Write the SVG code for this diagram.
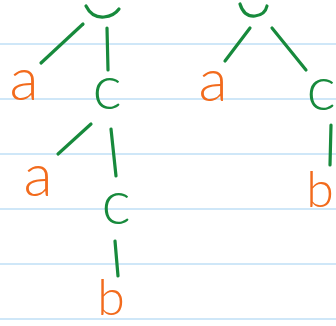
<svg xmlns="http://www.w3.org/2000/svg" width="336" height="326" viewBox="0 0 336 326">
<style>
.rule{stroke:#cfe7f8;stroke-width:2}
.edge{stroke:#178a3c;stroke-width:3.2;stroke-linecap:round;fill:none}
.g{fill:#178a3c;font-family:"Lato","Noto Sans",sans-serif;font-weight:300;font-size:62px;text-anchor:middle}
.o{fill:#f26b1d;font-family:"Lato","Noto Sans",sans-serif;font-weight:300;font-size:60px;text-anchor:middle}
.ob{fill:#f26b1d;font-family:"Lato","Noto Sans",sans-serif;font-weight:300;font-size:50px;text-anchor:middle}
</style>
<rect width="336" height="326" fill="#ffffff"/>
<g id="rules">
<line class="rule" x1="0" y1="44" x2="336" y2="44"/>
<line class="rule" x1="0" y1="99" x2="336" y2="99"/>
<line class="rule" x1="0" y1="154" x2="336" y2="154"/>
<line class="rule" x1="0" y1="209" x2="336" y2="209"/>
<line class="rule" x1="0" y1="264" x2="336" y2="264"/>
<line class="rule" x1="0" y1="319" x2="336" y2="319"/>
</g>
<g id="connectors">
<path class="edge" d="M83 24 L41 63"/>
<path class="edge" d="M107 28 L108 70"/>
<path class="edge" d="M91 124 L58 154"/>
<path class="edge" d="M111 129 L116 176"/>
<path class="edge" d="M115 241 L118 276"/>
<path class="edge" d="M250 28 L225 61"/>
<path class="edge" d="M272 28 L306 70"/>
<path class="edge" d="M331 125 L330 165"/>
</g>
<g id="root-left"><path class="edge" d="M86 6 Q92 18 104 17 Q114 16 119 9"/></g>
<g id="root-right"><path class="edge" d="M240 4 Q244 17 255 16 Q265 15 267 6"/></g>
<g id="a-left"><text class="o" x="24" y="100">a</text></g>
<g id="c-left"><text class="g" x="107" y="109">c</text></g>
<g id="a-lower"><text class="o" x="38" y="196">a</text></g>
<g id="c-lower"><text class="g" x="116" y="224">c</text></g>
<g id="b-lower"><text class="ob" x="111" y="315">b</text></g>
<g id="a-right"><text class="o" x="213" y="101">a</text></g>
<g id="c-right"><text class="g" x="321" y="110">c</text></g>
<g id="b-right"><text class="ob" x="320" y="207">b</text></g>
</svg>
